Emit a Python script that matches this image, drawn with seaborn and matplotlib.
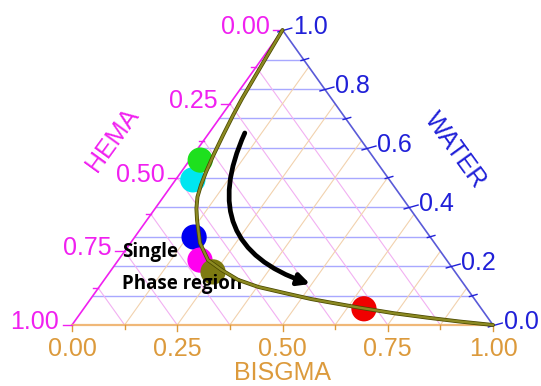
import numpy as np
import pandas as pd
import seaborn as sns
import matplotlib.pyplot as plt

# binodal curve (BISGMA, WATER fractions; HEMA = 1 - both)
curve_bisgma = [0.0, 0.008, 0.014, 0.020, 0.027, 0.037, 0.048, 0.059, 0.069, 0.081,
                0.098, 0.119, 0.165, 0.213, 0.263, 0.318, 0.378, 0.452, 0.524, 0.572,
                0.657, 0.744, 0.831, 0.913, 1.0]
curve_water = [1.0, 0.905, 0.837, 0.769, 0.712, 0.644, 0.576, 0.519, 0.475, 0.434,
               0.395, 0.356, 0.278, 0.220, 0.186, 0.153, 0.129, 0.108, 0.088, 0.077,
               0.058, 0.040, 0.025, 0.012, 0.0]

# sample compositions (drawn in this order)
pt_names = ['cyan', 'green', 'blue', 'magenta', 'olive', 'red']
pt_bisgma = [0.041, 0.025, 0.141, 0.194, 0.245, 0.666]
pt_water = [0.492, 0.559, 0.298, 0.220, 0.180, 0.055]
pt_colors = ['#00e6f0', '#1ee01e', '#0000f0', '#ff00f0', '#7d7a12', '#f00000']

hema_ticks = [0.0, 0.25, 0.5, 0.75, 1.0]
water_ticks = [0.0, 0.2, 0.4, 0.6, 0.8, 1.0]
bisgma_ticks = [0.0, 0.25, 0.5, 0.75, 1.0]

C_HEMA = '#f020f0'
C_WATER = '#2020d8'
C_BIS = '#dc9a3c'


def tern(b, w):
    b = np.asarray(b, dtype=float)
    w = np.asarray(w, dtype=float)
    return b + w / 2.0, w


fig = plt.figure(figsize=(5.41, 3.86), dpi=100)
ax = fig.add_axes([0, 0, 1, 1])
ax.set_xlim(-72 / 421, (541 - 72) / 421)
ax.set_ylim(-61 / 295, (386 - 61) / 295)
ax.axis('off')

# grid
for w in np.arange(0.1, 1.0, 0.1):
    x0, y0 = tern(0, w)
    x1, y1 = tern(1 - w, w)
    ax.plot([x0, x1], [y0, y1], color='#a8a8ff', lw=1.0, zorder=1)
for k in np.arange(0.125, 1.0, 0.125):
    # HEMA = k
    x0, y0 = tern(0, 1 - k)
    x1, y1 = tern(1 - k, 0)
    ax.plot([x0, x1], [y0, y1], color='#f2b0f2', lw=0.8, zorder=1)
    # BISGMA = k
    x0, y0 = tern(k, 1 - k)
    x1, y1 = tern(k, 0)
    ax.plot([x0, x1], [y0, y1], color='#f2d2ae', lw=0.8, zorder=1)

# edges
ax.plot([0, 0.5], [0, 1], color=C_HEMA, lw=1.2, zorder=2)
ax.plot([0.5, 1], [1, 0], color='#5a5ad8', lw=1.2, zorder=2)
ax.plot([0, 1], [0, 0], color='#f0b878', lw=1.6, zorder=2)

# ticks
for k in np.arange(0, 1.001, 0.125):
    major = abs(k * 4 - round(k * 4)) < 1e-6
    L = 0.022 if major else 0.012
    x, y = tern(0, 1 - k)
    ax.plot([x - L, x], [y, y], color=C_HEMA, lw=1, zorder=2)
    x, y = tern(k, 0)
    ax.plot([x, x], [y, y - L], color=C_BIS, lw=1, zorder=2)
for k in np.arange(0, 1.001, 0.1):
    major = abs(k * 5 - round(k * 5)) < 1e-6
    L = 0.022 if major else 0.012
    x, y = tern(1 - k, k)
    ax.plot([x - L * 0.5, x + L], [y - L * 0.3, y + L * 0.3], color=C_WATER, lw=1, zorder=2)

fs = 18
fam = ['Liberation Sans', 'DejaVu Sans']
for h in hema_ticks:
    x, y = tern(0, 1 - h)
    ax.text(x - 0.03, y + 0.01, f'{h:.2f}', color=C_HEMA, fontsize=fs, family=fam,
            ha='right', va='center')
for w in water_ticks:
    x, y = tern(1 - w, w)
    ax.text(x + 0.025, y + 0.01, f'{w:.1f}', color=C_WATER, fontsize=fs, family=fam,
            ha='left', va='center')
for b in bisgma_ticks:
    x, y = tern(b, 0)
    ax.text(x, y - 0.04, f'{b:.2f}', color=C_BIS, fontsize=fs, family=fam,
            ha='center', va='top')

ax.text((112 - 72) / 421, (325 - 140) / 295, 'HEMA', color=C_HEMA, fontsize=fs,
        family=fam, rotation=54, ha='center', va='center')
ax.text((455 - 72) / 421, (325 - 150) / 295, 'WATER', color=C_WATER, fontsize=fs,
        family=fam, rotation=-54, ha='center', va='center')
ax.text((283 - 72) / 421, (325 - 373) / 295, 'BISGMA', color=C_BIS, fontsize=fs,
        family=fam, ha='center', va='center')

# markers
pts = pd.DataFrame({'name': pt_names, 'bisgma': pt_bisgma, 'water': pt_water})
pts['x'], pts['y'] = tern(pts['bisgma'], pts['water'])
sns.scatterplot(data=pts, x='x', y='y', hue='name', palette=dict(zip(pt_names, pt_colors)),
                s=330, edgecolor='none', legend=False, ax=ax, zorder=3)

# binodal curve
cur = pd.DataFrame({'bisgma': curve_bisgma, 'water': curve_water})
cur['x'], cur['y'] = tern(cur['bisgma'], cur['water'])
sns.lineplot(data=cur, x='x', y='y', sort=False, color='#4a4800', lw=2.8, ax=ax, zorder=4,
             solid_joinstyle='round', solid_capstyle='round')
sns.lineplot(data=cur, x='x', y='y', sort=False, color='#8c8a22', lw=1.7, ax=ax, zorder=5,
             solid_joinstyle='round', solid_capstyle='round')

# arrow
xs, ys = tern(0.085, 0.651)
xe, ye = tern(0.496, 0.139)
ax.annotate('', xy=(xe, ye), xytext=(xs, ys), zorder=6,
            arrowprops=dict(arrowstyle='-|>,head_length=0.7,head_width=0.35', color='black',
                            lw=3.4, connectionstyle='arc3,rad=0.55', shrinkA=0, shrinkB=0))

tx = (122 - 72) / 421
ax.text(tx, (325 - 252) / 295, 'Single', fontsize=13.5, fontweight='bold',
        family=['Open Sans', 'DejaVu Sans'], ha='left', va='center')
ax.text(tx, (325 - 284) / 295, 'Phase region', fontsize=13.5, fontweight='bold',
        family=['Open Sans', 'DejaVu Sans'], ha='left', va='center')

ax.set_xlabel('')
ax.set_ylabel('')
fig.savefig('out.png', dpi=100)
